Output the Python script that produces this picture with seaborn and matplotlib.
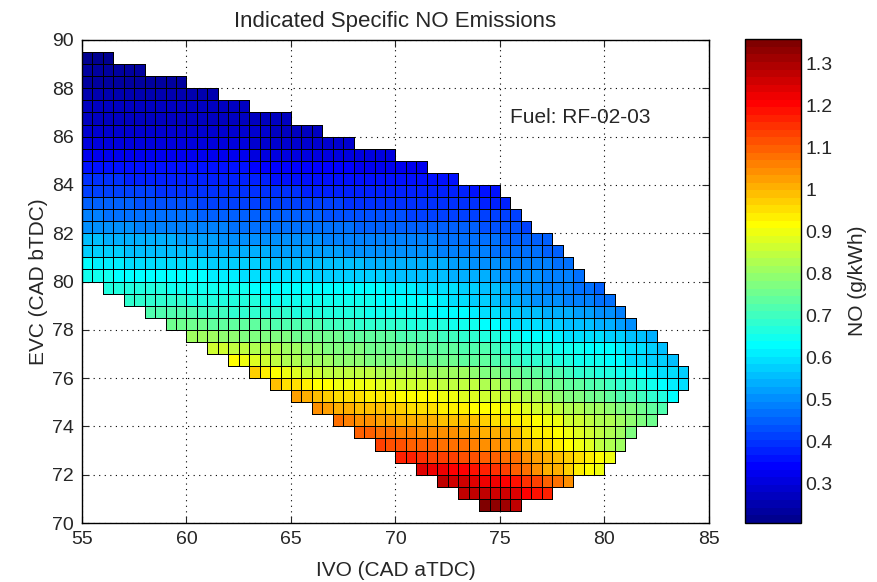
import numpy as np
import pandas as pd
import matplotlib
matplotlib.use("Agg")
import matplotlib.pyplot as plt
from matplotlib.colors import ListedColormap
import seaborn as sns

sns.set_style("white")
plt.rcParams["font.family"] = ["Liberation Sans", "DejaVu Sans"]

# ---- data ----
# lower EVC edge of each row of cells (CAD bTDC), top to bottom
evc_lower = [89.0, 88.5, 88.0, 87.5, 87.0, 86.5, 86.0, 85.5, 85.0, 84.5,
             84.0, 83.5, 83.0, 82.5, 82.0, 81.5, 81.0, 80.5, 80.0, 79.5,
             79.0, 78.5, 78.0, 77.5, 77.0, 76.5, 76.0, 75.5, 75.0, 74.5,
             74.0, 73.5, 73.0, 72.5, 72.0, 71.5, 71.0, 70.5]
# first IVO (left edge, CAD aTDC) of each row
ivo_first = [55] * 19 + [56, 57, 58, 59, 60, 61, 62, 63, 64, 65,
                         66, 67, 68, 69, 70, 71, 72, 73, 74]
# NO (g/kWh x 100) per cell, left to right, 0.5 CAD steps
no_rows = [
    "22 22 22",
    "23 23 23 23 23 23",
    "24 24 24 24 24 24 24 24 24 24",
    "25 25 25 25 25 25 25 25 25 25 | 25 25 25",
    "26 26 26 26 26 26 26 26 26 26 | 26 26 26 26 26 26",
    "27 27 27 27 27 27 27 27 27 27 | 27 27 26 26 26 26 26 26 26 26",
    "29 29 29 29 29 29 29 29 28 28 | 28 28 28 28 28 28 28 28 27 27 | 27 27 27",
    "31 31 31 31 31 31 30 30 30 30 | 30 30 30 30 30 30 29 29 29 29 | 29 29 29 29 29 29",
    "33 33 33 33 33 33 32 32 32 32 | 32 32 32 32 32 32 31 31 31 31 | 31 31 31 31 31 31 31 31 31 31",
    "36 36 36 36 36 36 35 35 35 35 | 35 35 35 35 35 35 34 34 34 34 | 34 34 34 34 34 34 33 33 33 33 | 33 33 33",
    "39 39 39 39 38 38 38 38 38 38 | 37 37 37 37 37 37 37 37 36 36 | 36 36 36 36 36 36 36 36 35 35 | 35 35 35 35 35 35",
    "42 42 42 41 41 41 41 40 40 40 | 40 40 39 39 39 39 39 39 39 39 | 39 38 38 38 38 38 38 38 38 38 | 38 37 37 37 37 37 37 36 36 36",
    "45 45 44 44 44 43 43 43 43 43 | 43 42 42 42 42 42 42 41 41 41 | 41 41 41 41 41 40 40 40 40 40 | 40 40 40 39 39 39 39 39 38 38 | 38",
    "48 48 47 47 47 46 46 46 46 46 | 46 45 45 45 45 45 44 44 44 44 | 44 44 44 43 43 43 43 43 43 43 | 43 42 42 42 42 42 42 41 41 41 | 41 41",
    "51 50 50 50 50 49 49 49 49 49 | 48 48 48 48 47 47 47 47 47 47 | 46 46 46 46 46 46 45 45 45 45 | 45 45 45 44 44 44 44 44 43 43 | 43 43 42",
    "55 55 54 54 54 53 53 53 53 52 | 52 52 52 51 51 51 51 50 50 50 | 50 50 50 49 49 49 49 49 49 48 | 48 48 48 48 47 47 47 46 46 46 | 45 45 45 44 44",
    "58 57 57 57 56 56 56 55 55 55 | 55 54 54 54 53 53 53 53 52 52 | 52 52 52 52 52 51 51 51 51 51 | 51 50 50 50 49 49 48 48 48 47 | 47 47 46 46 45 45",
    "62 61 61 61 60 60 60 60 59 59 | 59 59 58 58 58 57 57 57 56 56 | 56 56 55 55 55 55 55 54 54 54 | 54 54 53 53 53 52 52 51 51 50 | 50 49 49 48 48 47 46",
    "64 64 64 63 63 63 63 63 62 62 | 62 62 61 61 61 60 60 60 59 59 | 59 59 58 58 58 57 57 57 57 56 | 56 56 55 55 55 54 54 53 53 52 | 51 51 50 50 49 49 48 47",
    "67 67 66 66 66 66 65 65 65 65 | 64 64 64 64 63 63 63 63 63 62 | 62 62 62 62 62 62 62 61 61 61 | 60 60 59 59 58 57 56 55 53 52 | 51 50 49 48 48 47 46 45",
    "69 69 68 68 68 68 67 67 67 67 | 66 66 66 65 65 65 65 64 64 64 | 64 64 64 64 63 63 63 63 62 62 | 61 60 59 58 57 55 54 53 52 51 | 50 50 49 48 48 47 47",
    "72 72 71 71 71 70 70 70 69 69 | 69 68 68 68 67 67 67 66 66 66 | 66 65 65 65 64 64 64 63 63 62 | 62 61 60 59 58 57 56 55 54 54 | 53 52 52 51 50 49",
    "76 75 75 75 74 74 74 73 73 73 | 72 72 72 71 71 70 70 70 69 69 | 69 68 68 67 67 67 66 65 65 64 | 63 62 61 60 60 59 58 57 56 56 | 55 54 53 52 51",
    "81 80 80 79 79 78 78 77 77 77 | 76 76 75 75 75 74 74 74 73 73 | 72 72 71 71 70 70 69 68 67 66 | 65 64 63 62 62 61 60 60 59 59 | 58 57 56 55 53",
    "87 86 85 84 83 83 82 81 80 79 | 79 78 78 77 77 76 76 76 75 75 | 74 74 73 73 72 71 71 70 69 68 | 67 66 66 65 64 64 63 62 62 61 | 60 59 57 56",
    "91 89 88 86 85 83 82 81 80 80 | 79 79 79 78 78 78 77 77 76 76 | 75 75 74 74 73 72 71 70 69 68 | 68 67 66 65 64 64 63 62 60 59 | 58 57 56",
    "97 94 92 90 88 87 86 85 85 84 | 84 84 83 83 83 82 82 81 81 80 | 80 79 78 77 76 75 74 73 72 71 | 70 69 68 67 66 65 64 62 61 60 | 59 58",
    "98 96 95 93 92 91 90 89 89 89 | 88 88 87 87 86 86 85 85 84 84 | 83 82 80 79 78 77 76 75 74 73 | 72 71 70 69 68 66 65 63 61 59",
    "102 100 99 97 96 95 95 94 93 93 | 92 92 91 91 90 89 88 88 87 86 | 85 84 83 82 81 79 78 77 76 75 | 73 72 71 70 68 66 63",
    "104 102 101 100 99 98 98 97 97 96 | 96 95 94 94 93 92 91 91 90 89 | 88 87 86 84 83 82 81 80 79 78 | 77 75 73 71",
    "107 106 105 104 103 102 101 101 100 100 | 99 99 98 98 97 96 95 94 93 92 | 90 89 87 86 85 83 82 80 79 77 | 75",
    "110 109 108 107 106 106 105 105 104 104 | 103 102 101 101 100 98 96 94 93 91 | 90 88 86 84 82 80 78",
    "113 112 111 110 110 109 108 108 107 106 | 105 104 103 101 99 97 95 93 91 90 | 88 85 82 80",
    "117 116 115 114 114 113 112 111 110 109 | 108 107 105 103 101 99 97 96 94 92 | 89",
    "124 123 122 121 120 119 117 115 113 110 | 107 104 101 100 97 94 92 90",
    "127 126 125 124 123 122 120 118 115 113 | 110 107 105",
    "128 127 127 126 125 124 121 118 116",
    "134 133 131 128",
]

ivo_ticks = [55, 60, 65, 70, 75, 80, 85]
evc_ticks = [70, 72, 74, 76, 78, 80, 82, 84, 86, 88, 90]
cbar_ticks = [0.3, 0.4, 0.5, 0.6, 0.7, 0.8, 0.9, 1.0, 1.1, 1.2, 1.3]
cbar_labels = ["0.3", "0.4", "0.5", "0.6", "0.7", "0.8", "0.9", "1", "1.1", "1.2", "1.3"]
no_min, no_max = 0.206, 1.357

# ---- MATLAB-style jet(64) colour map ----
n, m = 64, 16
u = np.concatenate([np.arange(1, m + 1) / m, np.ones(m - 1), np.arange(m, 0, -1) / m])
g = np.arange(len(u)) + m // 2
jet = np.zeros((n, 3))
for chan, idx in ((1, g), (0, g + m), (2, g - m)):
    ok = (idx >= 0) & (idx < n)
    jet[idx[ok], chan] = u[ok]
cmap = ListedColormap(jet)

# ---- build the IVO x EVC table ----
step = 0.5
ivo_centers = np.arange(55 + step / 2, 85, step)
evc_centers = np.arange(90 - step / 2, 70, -step)
table = np.full((len(evc_centers), len(ivo_centers)), np.nan)
for lo, first, row in zip(evc_lower, ivo_first, no_rows):
    vals = [float(v) / 100 for v in row.replace("|", " ").split()]
    i = int(round((90 - (lo + step)) / step))
    j0 = int(round((first - 55) / step))
    table[i, j0:j0 + len(vals)] = vals
df = pd.DataFrame(table, index=evc_centers, columns=ivo_centers)

# ---- draw ----
W, H = 878, 582
fig = plt.figure(figsize=(W / 100, H / 100), dpi=100)
ax = fig.add_axes([82 / W, 1 - 523 / H, 627 / W, 483 / H])
cax = fig.add_axes([745 / W, 1 - 522.7 / H, 55.7 / W, 483.4 / H])

sns.heatmap(df, ax=ax, cmap=cmap, vmin=no_min, vmax=no_max,
            linewidths=0.7, linecolor="black", cbar_ax=cax,
            xticklabels=False, yticklabels=False)

# cell outlines only on the cells that hold a value
mesh = ax.collections[0]
valid = ~np.isnan(df.values).ravel()
edges = np.zeros((valid.size, 4))
edges[valid, 3] = 1.0
mesh.set_edgecolor(edges)

ax.set_xticks([(v - 55) / step for v in ivo_ticks])
ax.set_xticklabels([str(v) for v in ivo_ticks], fontsize=14)
ax.set_yticks([(90 - v) / step for v in evc_ticks])
ax.set_yticklabels([str(v) for v in evc_ticks], fontsize=14)
ax.tick_params(direction="in", length=5, width=0.8, top=True, right=True,
               bottom=True, left=True, pad=6)
for s in ax.spines.values():
    s.set_visible(True)
    s.set_color("black")
    s.set_linewidth(1.0)
ax.set_axisbelow(True)
ax.grid(True, color="black", linestyle=(0, (1, 4)), linewidth=0.8)

ax.set_title("Indicated Specific NO Emissions", fontsize=16, pad=9)
ax.set_xlabel("IVO (CAD aTDC)", fontsize=15, labelpad=9)
ax.set_ylabel("EVC (CAD bTDC)", fontsize=15, labelpad=3)
ax.text((75.5 - 55) / step, (90 - 86.8) / step, "Fuel: RF-02-03",
        fontsize=15, ha="left", va="center")

cbar = ax.collections[0].colorbar
cbar.set_ticks(cbar_ticks)
cbar.set_ticklabels(cbar_labels)
cbar.ax.tick_params(labelsize=14, direction="in", length=5, width=0.8,
                    right=True, left=False)
cbar.outline.set_visible(True)
cbar.outline.set_edgecolor("black")
cbar.outline.set_linewidth(1.0)
cbar.set_label("NO (g/kWh)", fontsize=15, labelpad=11)

fig.savefig("out.png", dpi=100)
